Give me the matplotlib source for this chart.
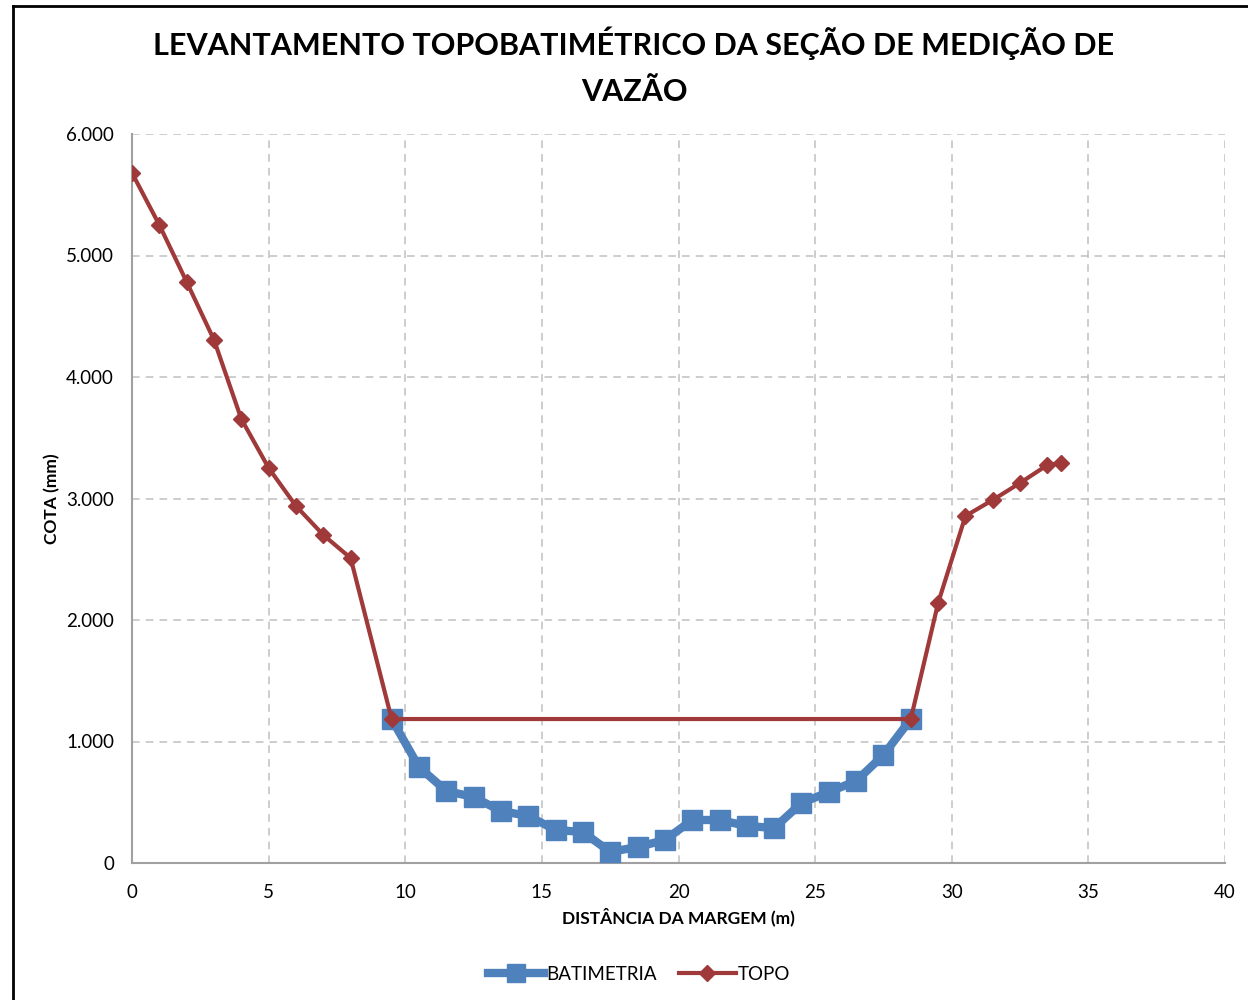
import matplotlib
matplotlib.use("Agg")
import matplotlib.pyplot as plt
from matplotlib.lines import Line2D
from matplotlib.ticker import FuncFormatter, MultipleLocator

plt.rcParams["font.family"] = ["Lato", "DejaVu Sans"]

TITLE = "LEVANTAMENTO TOPOBATIMÉTRICO DA SEÇÃO DE MEDIÇÃO DE\nVAZÃO"
X_LABEL = "DISTÂNCIA DA MARGEM (m)"
Y_LABEL = "COTA (mm)"

# bathymetry (river bed)
bat_x = [9.5, 10.5, 11.5, 12.5, 13.5, 14.5, 15.5, 16.5, 17.5, 18.5, 19.5,
         20.5, 21.5, 22.5, 23.5, 24.5, 25.5, 26.5, 27.5, 28.5]
bat_y = [1185, 790, 593, 543, 428, 387, 272, 255, 91, 132, 189,
         354, 354, 305, 288, 494, 584, 675, 889, 1185]

# topography (banks + water line)
topo_x = [0, 1, 2, 3, 4, 5, 6, 7, 8, 9.5, 28.5, 29.5, 30.5, 31.5, 32.5, 33.5, 34]
topo_y = [5679, 5251, 4782, 4305, 3654, 3251, 2938, 2700, 2510, 1185, 1185,
          2140, 2856, 2988, 3128, 3276, 3292]

BLUE = "#4f81bd"
RED = "#a0393a"

fig = plt.figure(figsize=(12.48, 10.0), dpi=100)
ax = fig.add_axes([0.1058, 0.137, 0.8758, 0.729])

ax.plot(bat_x, bat_y, color=BLUE, linewidth=6, marker="s", markersize=15,
        label="BATIMETRIA", zorder=3)
ax.plot(topo_x, topo_y, color=RED, linewidth=3, marker="D", markersize=8,
        label="TOPO", zorder=4)

ax.set_xlim(0, 40)
ax.set_ylim(0, 6000)
ax.xaxis.set_major_locator(MultipleLocator(5))
ax.yaxis.set_major_locator(MultipleLocator(1000))
ax.yaxis.set_major_formatter(FuncFormatter(
    lambda v, _: "0" if v == 0 else f"{v:,.0f}".replace(",", ".")))

ax.grid(True, color="#c0c0c0", linestyle=(0, (5, 4)), linewidth=1.1)
ax.set_axisbelow(True)
for side in ("top", "right"):
    ax.spines[side].set_visible(False)
for side in ("left", "bottom"):
    ax.spines[side].set_color("#a0a0a0")
    ax.spines[side].set_linewidth(1.5)
ax.tick_params(axis="y", length=0, labelsize=13.5, pad=13)
ax.tick_params(axis="x", length=0, labelsize=13.5, pad=15)

ax.set_xlabel(X_LABEL, fontsize=12.5, fontweight="bold", labelpad=5)
ax.set_ylabel(Y_LABEL, fontsize=12.5, fontweight="bold", labelpad=4)

fig.text(0.508, 0.973, TITLE, ha="center", va="top", fontsize=22,
         fontweight="bold", linespacing=1.75)

handles = [
    Line2D([], [], color=BLUE, linewidth=6, marker="s", markersize=13),
    Line2D([], [], color=RED, linewidth=3, marker="D", markersize=8),
]
fig.legend(handles, ["BATIMETRIA", "TOPO"], loc="center",
           bbox_to_anchor=(0.512, 0.026), ncol=2, frameon=False,
           fontsize=13.5, handlelength=3, handletextpad=0.1, columnspacing=1.2)

# partial frame (left + top) like the original chart box
fig.add_artist(Line2D([0.0105, 0.0105], [0.0, 0.994], color="black",
                      linewidth=2, transform=fig.transFigure))
fig.add_artist(Line2D([0.0105, 1.0], [0.994, 0.994], color="black",
                      linewidth=2, transform=fig.transFigure))

fig.savefig("out.png", dpi=100)
